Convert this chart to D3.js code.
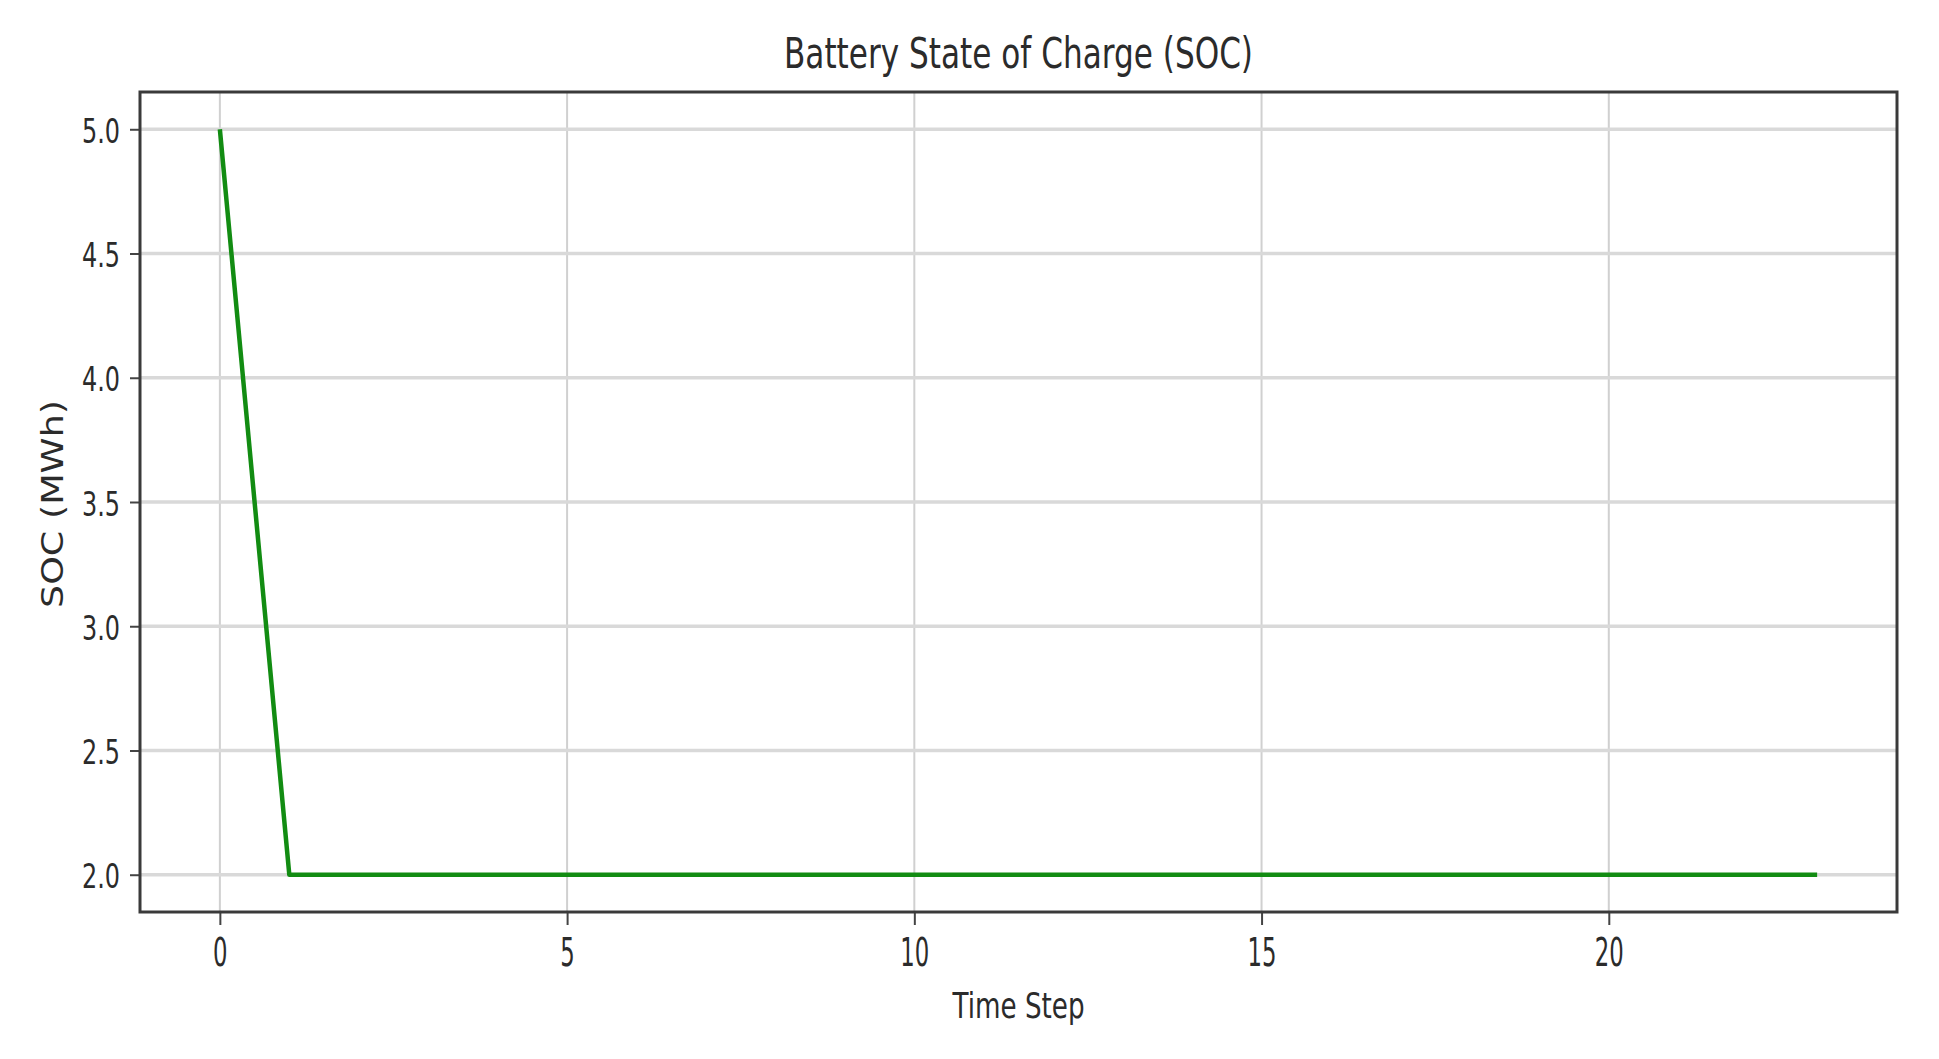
<!DOCTYPE html>
<html>
<head>
<meta charset="utf-8">
<script src="https://cdn.jsdelivr.net/npm/d3@7"></script>
<style>
  html, body { margin: 0; padding: 0; background: #ffffff; }
  svg { display: block; }
  text { font-family: "DejaVu Sans", sans-serif; fill: #2b2b2b; }
</style>
</head>
<body>
<svg id="chart" width="1939" height="1059"></svg>
<script>
// ---- data ----
const timeSteps = [0,1,2,3,4,5,6,7,8,9,10,11,12,13,14,15,16,17,18,19,20,21,22,23];
const socValues = [5.0,2.0,2.0,2.0,2.0,2.0,2.0,2.0,2.0,2.0,2.0,2.0,2.0,2.0,2.0,2.0,2.0,2.0,2.0,2.0,2.0,2.0,2.0,2.0];
const xTicks = [0, 5, 10, 15, 20];
const yTicks = [2.0, 2.5, 3.0, 3.5, 4.0, 4.5, 5.0];
const yTickLabels = ["2.0", "2.5", "3.0", "3.5", "4.0", "4.5", "5.0"];
const titleText = "Battery State of Charge (SOC)";
const xLabelText = "Time Step";
const yLabelText = "SOC (MWh)";

// ---- layout ----
const plotLeft = 140, plotRight = 1897, plotTop = 92, plotBottom = 912;
const svg = d3.select("#chart");

const xMin = d3.min(timeSteps), xMax = d3.max(timeSteps);
const xPad = (xMax - xMin) * 0.05;
const yMin = d3.min(socValues), yMax = d3.max(socValues);
const yPad = (yMax - yMin) * 0.05;

const x = d3.scaleLinear().domain([xMin - xPad, xMax + xPad]).range([plotLeft, plotRight]);
const y = d3.scaleLinear().domain([yMin - yPad, yMax + yPad]).range([plotBottom, plotTop]);

// grid lines
const grid = svg.append("g");
grid.selectAll("line.vg").data(xTicks).enter().append("line")
  .attr("x1", d => x(d)).attr("x2", d => x(d))
  .attr("y1", plotTop).attr("y2", plotBottom)
  .attr("stroke", "#d0d0d0").attr("stroke-width", 2);
grid.selectAll("line.hg").data(yTicks).enter().append("line")
  .attr("x1", plotLeft).attr("x2", plotRight)
  .attr("y1", d => y(d)).attr("y2", d => y(d))
  .attr("stroke", "#d9d9d9").attr("stroke-width", 3.5);

// line
const line = d3.line().x((d, i) => x(timeSteps[i])).y(d => y(d));
svg.append("path").datum(socValues)
  .attr("d", line)
  .attr("fill", "none")
  .attr("stroke", "#128c12")
  .attr("stroke-width", 4.5)
  .attr("stroke-linejoin", "round");

// axes via d3
const xAxis = d3.axisBottom(x).tickValues(xTicks).tickSize(13).tickFormat(d3.format("d"));
const gx = svg.append("g").attr("transform", `translate(0,${plotBottom})`).call(xAxis);
gx.select(".domain").remove();
gx.selectAll(".tick line").attr("stroke", "#444").attr("stroke-width", 2);
gx.selectAll(".tick text")
  .attr("y", 0).attr("dy", null)
  .attr("transform", "translate(0,54)")
  .style("font-family", "DejaVu Sans, sans-serif")
  .style("font-size", "39px")
  .style("fill", "#2b2b2b")
  .attr("textLength", d => String(d).length * 14.5)
  .attr("lengthAdjust", "spacingAndGlyphs");

const yAxis = d3.axisLeft(y).tickValues(yTicks).tickSize(10)
  .tickFormat((d, i) => yTickLabels[i]);
const gy = svg.append("g").attr("transform", `translate(${plotLeft},0)`).call(yAxis);
gy.select(".domain").remove();
gy.selectAll(".tick line").attr("stroke", "#444").attr("stroke-width", 2);
gy.selectAll(".tick text")
  .attr("x", -20).attr("dy", null).attr("y", 13)
  .style("font-family", "DejaVu Sans, sans-serif")
  .style("font-size", "34px")
  .style("fill", "#2b2b2b")
  .attr("textLength", 38)
  .attr("lengthAdjust", "spacingAndGlyphs");

// frame (spines)
svg.append("rect")
  .attr("x", plotLeft).attr("y", plotTop)
  .attr("width", plotRight - plotLeft).attr("height", plotBottom - plotTop)
  .attr("fill", "none").attr("stroke", "#3a3a3a").attr("stroke-width", 3);

// title
svg.append("text")
  .attr("x", (plotLeft + plotRight) / 2).attr("y", 68)
  .attr("text-anchor", "middle")
  .style("font-size", "43px")
  .attr("textLength", 469).attr("lengthAdjust", "spacingAndGlyphs")
  .text(titleText);

// x label
svg.append("text")
  .attr("x", (plotLeft + plotRight) / 2).attr("y", 1018)
  .attr("text-anchor", "middle")
  .style("font-size", "36px")
  .attr("textLength", 132).attr("lengthAdjust", "spacingAndGlyphs")
  .text(xLabelText);

// y label
svg.append("text")
  .attr("transform", "translate(63,504) rotate(-90)")
  .attr("text-anchor", "middle")
  .style("font-size", "29.5px")
  .attr("textLength", 208).attr("lengthAdjust", "spacingAndGlyphs")
  .text(yLabelText);
</script>
</body>
</html>
